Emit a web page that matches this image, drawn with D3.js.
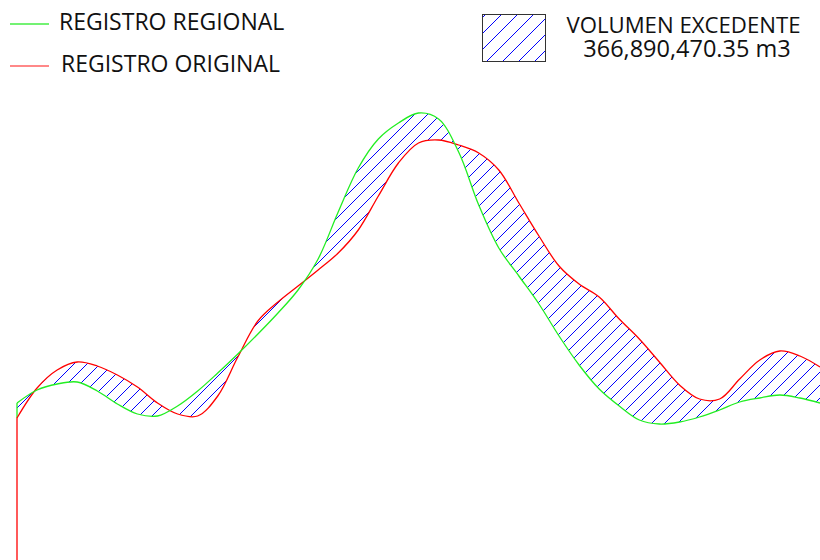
<!DOCTYPE html>
<html>
<head>
<meta charset="utf-8">
<script src="https://cdn.jsdelivr.net/npm/d3@7"></script>
<style>
  html, body { margin: 0; padding: 0; background: #fff; }
  svg { display: block; }
  text { font-family: "Open Sans", "Noto Sans", sans-serif; fill: #111; }
</style>
</head>
<body>
<svg id="chart" width="820" height="560"></svg>
<script>
// Stations (index along the profile)
const stations = d3.range(0, 41);
// Regional record
const regional = [157,170,176,178,169,156,146,144,154,169,187,206,226,247,270,301,348,392,421,437,447,441,408,355,312,284,256,224,195,171,154,140,136,138,143,150,158,162,165,162,157];
// Original record
const original = [142,172,190,198,194,185,173,157,146,144,164,203,239,258,274,290,307,330,364,397,417,420,415,407,390,357,324,294,276,263,241,221,198,175,161,161,181,200,209,204,193];
const legendLabels = ["REGISTRO REGIONAL", "REGISTRO ORIGINAL"];
const volumeLabel = ["VOLUMEN EXCEDENTE", "366,890,470.35 m3"];

const W = 820, H = 560;
const svg = d3.select("#chart");

const x = d3.scaleLinear().domain([0, 40]).range([17, 820]);
const y = d3.scaleLinear().domain([0, 460]).range([560, 100]);

const defs = svg.append("defs");
const data = stations.map((s, i) => ({ s, g: regional[i], r: original[i] }));
const curve = d3.curveCatmullRom.alpha(0.5);

const area = d3.area().x(d => x(d.s)).y0(d => y(d.g)).y1(d => y(d.r)).curve(curve);
defs.append("clipPath").attr("id", "areaClip").append("path").datum(data).attr("d", area);
defs.append("clipPath").attr("id", "boxClip").append("rect")
  .attr("x", 482.5).attr("y", 14.5).attr("width", 63).attr("height", 47);

// diagonal hatch lines drawn as real lines, clipped to a region
function hatchLines(g, x0, x1, y0, y1, step) {
  const h = y1 - y0;
  const offs = d3.range(x0 - h, x1 + step, step);
  g.selectAll("line").data(offs).join("line")
    .attr("x1", d => d).attr("y1", y1)
    .attr("x2", d => d + h).attr("y2", y0)
    .attr("stroke", "#0000ff").attr("stroke-width", 1)
    .attr("shape-rendering", "crispEdges");
}
const hg = svg.append("g").attr("clip-path", "url(#areaClip)");
hatchLines(hg, 0, 820, 100, 440, 13);

const lineG = d3.line().x(d => x(d.s)).y(d => y(d.g)).curve(curve);
const lineR = d3.line().x(d => x(d.s)).y(d => y(d.r)).curve(curve);

// vertical segments at the start of the profile
svg.append("line").attr("x1", x(0)).attr("x2", x(0)).attr("y1", y(original[0])).attr("y2", y(0))
  .attr("stroke", "#ff0000").attr("stroke-width", 1.3);
svg.append("line").attr("x1", x(0)).attr("x2", x(0)).attr("y1", y(regional[0])).attr("y2", y(original[0]))
  .attr("stroke", "#22ee22").attr("stroke-width", 1.3);

svg.append("path").datum(data).attr("d", lineR).attr("fill", "none").attr("stroke", "#ff0000").attr("stroke-width", 1.3);
svg.append("path").datum(data).attr("d", lineG).attr("fill", "none").attr("stroke", "#22ee22").attr("stroke-width", 1.3);

// Legend
const lg = svg.append("g");
const legColors = ["#44ee44", "#ff6060"];
const legY = [24, 66];
const legTextY = [30, 72];
const legTextX = [59, 61];
legendLabels.forEach((t, i) => {
  lg.append("line").attr("x1", 10).attr("x2", 49).attr("y1", legY[i]).attr("y2", legY[i])
    .attr("stroke", legColors[i]).attr("stroke-width", 1.3);
  lg.append("text").attr("x", legTextX[i]).attr("y", legTextY[i]).attr("font-size", 23).text(t);
});

const bg = lg.append("g").attr("clip-path", "url(#boxClip)");
hatchLines(bg, 470, 560, 14, 62, 16);
lg.append("rect").attr("x", 482.5).attr("y", 14.5).attr("width", 63).attr("height", 47)
  .attr("fill", "none").attr("stroke", "#333").attr("stroke-width", 1);
lg.append("text").attr("x", 683.5).attr("y", 33).attr("text-anchor", "middle").attr("font-size", 22.2).text(volumeLabel[0]);
lg.append("text").attr("x", 687).attr("y", 57).attr("text-anchor", "middle").attr("font-size", 23.5).text(volumeLabel[1]);
</script>
</body>
</html>
